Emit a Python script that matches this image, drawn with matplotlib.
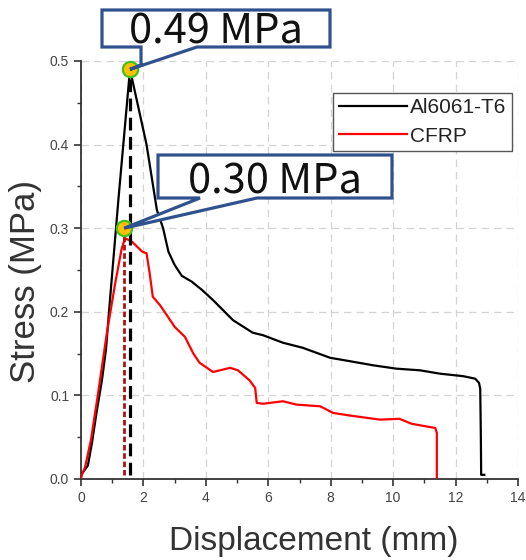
import matplotlib
matplotlib.use('Agg')
import matplotlib.pyplot as plt
from matplotlib.patches import Polygon

plt.rcParams['font.family'] = ['Liberation Sans', 'DejaVu Sans']

# Al6061-T6 curve
al_x = [0, 0.1, 0.22, 0.35, 0.5, 0.67, 0.8, 0.93, 1.2, 1.57, 2.1, 2.43, 2.63, 2.8, 3.0, 3.23,
        3.55, 3.88, 4.23, 4.87, 5.5, 5.83, 6.47, 7.1, 7.98, 8.6, 9.36, 10.1, 10.86, 11.5,
        12.24, 12.63, 12.75, 12.79, 12.81, 12.82, 12.92]
al_y = [0.005, 0.01, 0.016, 0.043, 0.08, 0.118, 0.155, 0.215, 0.335, 0.49, 0.4, 0.322, 0.30,
        0.272, 0.256, 0.243, 0.236, 0.226, 0.214, 0.19, 0.175, 0.172, 0.163, 0.157, 0.145,
        0.141, 0.136, 0.132, 0.13, 0.126, 0.123, 0.12, 0.115, 0.108, 0.05, 0.005, 0.005]

# CFRP curve
cf_x = [0, 0.03, 0.13, 0.32, 0.53, 0.83, 1.1, 1.3, 1.41, 1.63, 1.96, 2.1, 2.2, 2.3, 2.53, 2.75,
        3.0, 3.33, 3.6, 3.8, 4.23, 4.78, 5.03, 5.4, 5.58, 5.63, 5.83, 6.47, 6.9, 7.66, 8.08,
        8.6, 9.58, 10.2, 10.6, 11.35, 11.4, 11.4]
cf_y = [0.0, 0.005, 0.014, 0.047, 0.098, 0.175, 0.235, 0.275, 0.288, 0.284, 0.272, 0.27,
        0.246, 0.218, 0.208, 0.196, 0.182, 0.17, 0.15, 0.139, 0.128, 0.133, 0.13, 0.118,
        0.109, 0.091, 0.09, 0.093, 0.089, 0.087, 0.079, 0.076, 0.071, 0.072, 0.066, 0.061,
        0.055, 0.0]

series_names = ['Al6061-T6', 'CFRP']
peak_x = [1.57, 1.38]
peak_y = [0.49, 0.30]
peak_labels = ['0.49 MPa', '0.30 MPa']

W, H = 526, 560
fig = plt.figure(figsize=(W / 100, H / 100), dpi=100)
ax = fig.add_axes([81 / W, 1 - 479 / H, 437 / W, 418 / H])

ax.plot(al_x, al_y, color='black', lw=1.6, zorder=3, label=series_names[0])
ax.plot(cf_x, cf_y, color='#ff0000', lw=1.6, zorder=3, label=series_names[1])

ax.vlines(peak_x[0], 0.005, peak_y[0], colors='black', linestyles=(0, (4, 2)), lw=2.3, zorder=4)
ax.vlines(peak_x[1], 0.005, peak_y[1], colors='#b01010', linestyles=(0, (2, 1)), lw=2.0, zorder=4)

ax.set_xlim(0, 14)
ax.set_ylim(0, 0.5)
ax.set_xticks(range(0, 15, 2))
ax.set_xticks(range(1, 14, 2), minor=True)
ax.set_yticks([0, 0.1, 0.2, 0.3, 0.4, 0.5])
ax.set_yticks([0.05, 0.15, 0.25, 0.35, 0.45], minor=True)
ax.set_yticklabels(['0.0', '0.1', '0.2', '0.3', '0.4', '0.5'])
ax.tick_params(which='major', direction='out', length=5, width=1.2, colors='#333333', labelsize=10, labelcolor='#444444')
ax.tick_params(which='minor', direction='out', length=3, width=1.0, colors='#333333')
ax.grid(True, which='major', color='#d4d4d4', linestyle=(0, (6, 4)), lw=0.9)
for s in ['top', 'right']:
    ax.spines[s].set_visible(False)
for s in ['left', 'bottom']:
    ax.spines[s].set_color('#333333')
    ax.spines[s].set_linewidth(1.3)

ax.set_xlabel('Displacement (mm)', fontsize=24, color='#333333')
ax.xaxis.set_label_coords(0.533, -0.112)
ax.set_ylabel('Stress (MPa)', fontsize=25, color='#333333')
ax.yaxis.set_label_coords(-0.09, 0.4725)

leg = fig.legend(loc='upper right', bbox_to_anchor=(512 / W, 1 - 93 / H), borderaxespad=0,
                 fontsize=15, handlelength=3.3, handletextpad=0.15, labelspacing=0.45,
                 fancybox=False, edgecolor='#555555', framealpha=1, borderpad=0.25)
leg.get_frame().set_linewidth(1.0)
for t in leg.get_texts():
    t.set_color('#222222')


def px(x, y):
    return (x / W, 1 - y / H)


def tip(i):
    d = ax.transData.transform((peak_x[i], peak_y[i]))
    return tuple(fig.transFigure.inverted().transform(d))


# callout boxes: (left, top, right, bottom, wedge-left, wedge-right, wedge-drop, text baseline)
boxes = [(102, 10, 330, 47, 141, 197, 65, 44),
         (158, 155, 392, 198, 200, 257, 198, 193)]
for i, (l, t, r, b, wl, wr, wd, base) in enumerate(boxes):
    verts = [px(l, t), px(r, t), px(r, b), px(wr, b), tip(i), px(wl, wd), px(wl, b), px(l, b)]
    fig.patches.append(Polygon(verts, closed=True, transform=fig.transFigure, facecolor='white',
                               edgecolor='#2f528f', lw=2.3, zorder=5, joinstyle='miter'))
    fig.text((l + r) / 2 / W, 1 - base / H, peak_labels[i], ha='center', va='baseline',
             fontsize=30, color='#111111', family=['Noto Sans CJK KR', 'DejaVu Sans'], zorder=6)

ax.plot(peak_x, peak_y, 'o', ms=11, mfc='#ffc000', mec='#44c020', mew=1.6, zorder=10, clip_on=False)

fig.savefig('out.png', dpi=100)
